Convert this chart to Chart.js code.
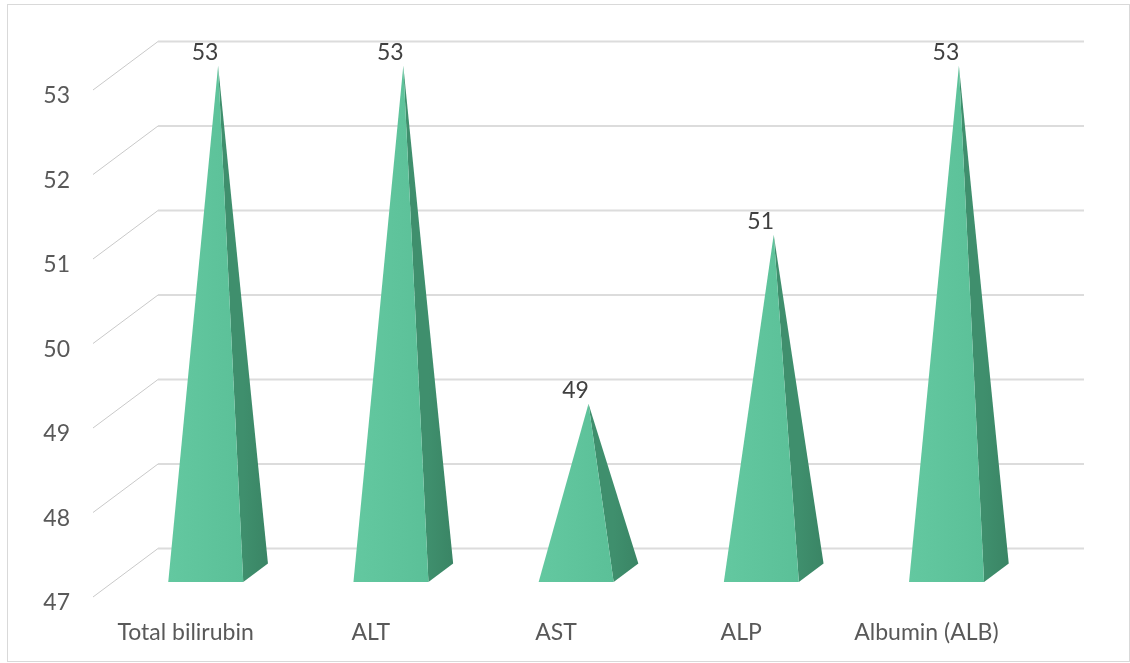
<!DOCTYPE html>
<html>
<head>
<meta charset="utf-8">
<script src="https://cdn.jsdelivr.net/npm/chart.js@4.4.1/dist/chart.umd.min.js"></script>
<style>
  html, body { margin: 0; padding: 0; background: #fff; }
  #wrap { position: relative; width: 1130px; height: 663px; }
  #frame { position: absolute; left: 7px; top: 4px; width: 1123px; height: 658px;
           border: 1px solid #d9d9d9; box-sizing: border-box; pointer-events: none; }
  canvas { position: absolute; left: 0; top: 0; }
</style>
</head>
<body>
<div id="wrap">
  <canvas id="c" width="1130" height="663"></canvas>
  <div id="frame"></div>
</div>
<script>
// Liver function test counts per parameter
const categories = ['Total bilirubin', 'ALT', 'AST', 'ALP', 'Albumin (ALB)'];
const values = [53, 53, 49, 51, 53];
const yMin = 47;
const yMax = 53;
const yStep = 1;

// Depth of the 3D floor (front edge -> back wall), in pixels
const DEPTH_X = 65;
const DEPTH_Y = -48.5;
// Pyramid base spans this part of the depth
const BASE_FRONT = 0.31;
const BASE_BACK = 0.69;

const FONT = { family: 'Lato, "Open Sans", sans-serif', size: 23 };

// Perspective gridlines: diagonal on the side wall, horizontal on the back wall
const wallGrid = {
  id: 'wallGrid',
  beforeDatasetsDraw(chart) {
    const { ctx, chartArea, scales } = chart;
    const ys = scales.y;
    ctx.save();
    ys.ticks.forEach(t => {
      const y = ys.getPixelForValue(t.value);
      const bx = chartArea.left + DEPTH_X;
      const by = y + DEPTH_Y;
      ctx.strokeStyle = '#c9c9c9';
      ctx.lineWidth = 1;
      ctx.beginPath();
      ctx.moveTo(chartArea.left, y);
      ctx.lineTo(bx, by);
      ctx.stroke();
      ctx.strokeStyle = '#dcdcdc';
      ctx.lineWidth = 2;
      ctx.beginPath();
      ctx.moveTo(bx, by);
      ctx.lineTo(chartArea.right + DEPTH_X, by);
      ctx.stroke();
    });
    ctx.restore();
  }
};

// Square pyramids drawn on the positions of the (invisible) bar elements
const pyramids = {
  id: 'pyramids',
  afterDatasetsDraw(chart) {
    const { ctx } = chart;
    const ys = chart.scales.y;
    const floor = ys.getPixelForValue(ys.min);
    const meta = chart.getDatasetMeta(0);
    ctx.save();
    meta.data.forEach((bar, i) => {
      const p = bar.getProps(['x', 'y', 'width'], true);
      const half = p.width / 2;
      const fl = { x: p.x - half + BASE_FRONT * DEPTH_X, y: floor + BASE_FRONT * DEPTH_Y };
      const fr = { x: p.x + half + BASE_FRONT * DEPTH_X, y: fl.y };
      const br = { x: p.x + half + BASE_BACK * DEPTH_X, y: floor + BASE_BACK * DEPTH_Y };
      const apex = { x: p.x + 0.5 * DEPTH_X, y: p.y + 0.5 * DEPTH_Y };

      // right side face
      const sg = ctx.createLinearGradient(fr.x, 0, br.x, 0);
      sg.addColorStop(0, '#3f8f6d');
      sg.addColorStop(1, '#3a8565');
      ctx.fillStyle = sg;
      ctx.beginPath();
      ctx.moveTo(fr.x, fr.y);
      ctx.lineTo(br.x, br.y);
      ctx.lineTo(apex.x, apex.y);
      ctx.closePath();
      ctx.fill();

      // front face
      const fg = ctx.createLinearGradient(fl.x, 0, fr.x, 0);
      fg.addColorStop(0, '#63c8a0');
      fg.addColorStop(1, '#5bc098');
      ctx.fillStyle = fg;
      ctx.beginPath();
      ctx.moveTo(fl.x, fl.y);
      ctx.lineTo(fr.x, fr.y);
      ctx.lineTo(apex.x, apex.y);
      ctx.closePath();
      ctx.fill();

      // value label above the tip
      ctx.fillStyle = '#404040';
      ctx.font = `${FONT.size}px ${FONT.family}`;
      ctx.textAlign = 'center';
      ctx.textBaseline = 'middle';
      ctx.fillText(String(values[i]), apex.x - 13, apex.y - 13);
    });
    ctx.restore();
  }
};

new Chart(document.getElementById('c'), {
  type: 'bar',
  data: {
    labels: categories,
    datasets: [{
      data: values,
      base: yMin,
      backgroundColor: 'rgba(0,0,0,0)',
      borderWidth: 0,
      barPercentage: 0.405,
      categoryPercentage: 1
    }]
  },
  options: {
    responsive: false,
    animation: false,
    devicePixelRatio: 1,
    layout: { padding: { top: 90, right: 111, left: 0, bottom: 0 } },
    plugins: { legend: { display: false }, tooltip: { enabled: false } },
    scales: {
      x: {
        grid: { display: false, drawTicks: false },
        border: { display: false },
        ticks: { color: '#595959', font: FONT, padding: 22, maxRotation: 0, autoSkip: false },
        afterFit(s) { s.height = 66; }
      },
      y: {
        min: yMin,
        max: yMax,
        grid: { display: false, drawTicks: false },
        border: { display: false },
        ticks: { stepSize: yStep, color: '#595959', font: FONT, padding: 23, labelOffset: 6 },
        afterFit(s) { s.width = 93; }
      }
    }
  },
  plugins: [wallGrid, pyramids]
});
</script>
</body>
</html>
